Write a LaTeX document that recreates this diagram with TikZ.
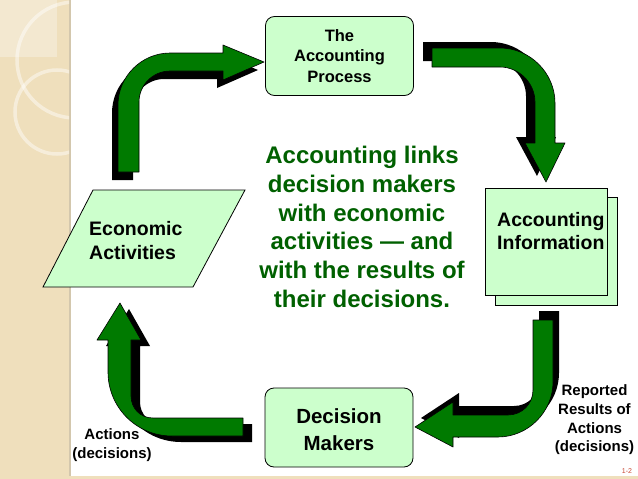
\documentclass[tikz,border=0pt]{standalone}
\usepackage{fontspec}
\setmainfont{Liberation Sans}
\usepackage{tikz}

\definecolor{boxgreen}{RGB}{204,255,204}
\definecolor{arrowgreen}{RGB}{0,122,0}
\definecolor{textgreen}{RGB}{0,96,0}
\definecolor{beige}{RGB}{239,223,188}
\definecolor{slidered}{RGB}{200,70,50}

\begin{document}
\begin{tikzpicture}[x=1pt,y=-1pt,
   box/.style={draw,line width=0.8pt,fill=boxgreen},
   roundbox/.style={box,rounded corners=9pt,minimum width=148pt,
      minimum height=79pt,inner sep=0pt},
   headtext/.style={font=\bfseries\fontsize{16.5}{20.5}\selectfont,align=center},
   boxtext/.style={font=\bfseries\fontsize{19.5}{23.3}\selectfont,align=left,
      inner sep=0pt},
   makertext/.style={font=\bfseries\fontsize{20.5}{27}\selectfont,align=center,
      inner sep=0pt},
   bigtext/.style={font=\bfseries\fontsize{24}{28.7}\selectfont,align=center,
      text=textgreen,inner sep=0pt},
   sidetext/.style={font=\bfseries\fontsize{15}{18.7}\selectfont,align=center,
      inner sep=0pt},
   arrowshadow/.style={fill=black},
   arrowbody/.style={fill=arrowgreen,draw=black,line width=0.6pt,line join=round}
]
   \useasboundingbox (0,0) rectangle (638,479);

   % slide background
   \fill[beige] (0,0) rectangle (70,479);
   \fill[beige] (70,476) rectangle (638,479);
   \draw[beige!75!gray,line width=1.5pt] (70,0) -- (70,476);
   \fill[white,opacity=0.3] (0,0) rectangle (57,57);
   \begin{scope}
      \clip (0,0) rectangle (69,476);
      \foreach \cx/\cy/\r in {75/60/58,57/112/42}
         \draw[white,opacity=0.45,line width=3.5pt] (\cx,\cy) circle[radius=\r];
   \end{scope}

   % bent arrows, shadow first
   \foreach \dx/\dy/\layer in {-6/8/arrowshadow,0/0/arrowbody}
      \path[\layer,shift={(\dx,\dy)}] (118,172) -- (118,105)
         .. controls (118,76) and (142,53) .. (170,53) -- (223,53) -- (223,45)
         -- (264,62) -- (223,80) -- (223,71) -- (170,71)
         .. controls (153,71) and (139,85) .. (139,102) -- (139,172) -- cycle;
   \foreach \dx/\dy/\layer in {-9/-6/arrowshadow,0/0/arrowbody}
      \path[\layer,shift={(\dx,\dy)}] (432,48) -- (500,48)
         .. controls (530,48) and (555,73) .. (555,103) -- (555,143) -- (565,143)
         -- (546,182) -- (525,143) -- (535,143) -- (535,102)
         .. controls (535,83) and (519,67) .. (500,67) -- (432,67) -- cycle;
   \foreach \dx/\dy/\layer in {6/-9/arrowshadow,0/0/arrowbody}
      \path[\layer,shift={(\dx,\dy)}] (533,320) -- (553,320) -- (553,382)
         .. controls (553,412) and (528,437) .. (498,437) -- (453,437) -- (453,447)
         -- (415,427) -- (453,402) -- (453,415) -- (508,415)
         .. controls (522,415) and (533,404) .. (533,390) -- cycle;
   \foreach \dx/\dy/\layer in {9/6/arrowshadow,0/0/arrowbody}
      \path[\layer,shift={(\dx,\dy)}] (243,418) -- (243,436) -- (172,436)
         .. controls (136,436) and (108,407) .. (108,372) -- (108,340) -- (97,340)
         -- (120,303) -- (141,340) -- (131,340) -- (131,396)
         .. controls (131,408) and (140,418) .. (153,418) -- cycle;

   % boxes
   \node[roundbox,headtext] (process) at (339.5,56) {The\\Accounting\\Process};

   \node[box,minimum width=122pt,minimum height=108pt] (infoback) at (556,251) {};
   \node[box,minimum width=122pt,minimum height=107pt] (info) at (546,241.5) {};
   \node[boxtext,anchor=west] (infotext) at (497,231) {Accounting\\Information};

   \draw[box] (93,190) -- (245,190) -- (193,287) -- (43,287) -- cycle;
   \node[boxtext,anchor=west] (econ) at (89,240.5) {Economic\\Activities};

   \node[roundbox] (decision) at (339,427.5) {};
   \node[makertext] (decisiontext) at (339,430) {Decision\\Makers};

   % texts
   \node[bigtext] (links) at (362,227) {Accounting links\\decision makers\\with
      economic\\activities — and\\with the results of\\their decisions.};
   \node[sidetext] (actions) at (112,445) {Actions\\(decisions)};
   \node[sidetext] (reported) at (594.5,420) {Reported\\Results of\\Actions\\(decisions)};
   \node[font=\fontsize{7}{8}\selectfont,text=slidered] (slideno) at (627,471) {1-2};
\end{tikzpicture}
\end{document}
